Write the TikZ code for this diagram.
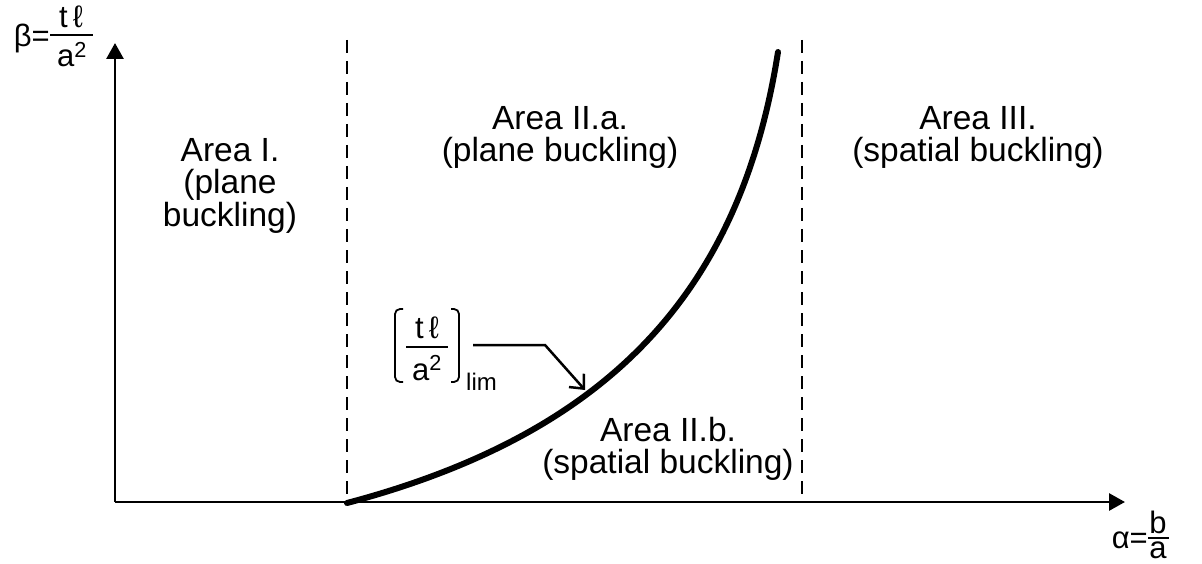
\documentclass[tikz,border=0pt]{standalone}
\usepackage{fontspec}
\setmainfont{Liberation Sans}
\usetikzlibrary{arrows.meta}
\begin{document}
\begin{tikzpicture}[x=1pt,y=-1pt,
  lbl/.style={font=\fontsize{33.5}{32}\selectfont, inner sep=0pt, anchor=base},
  eqtxt/.style={font=\fontsize{31}{31}\selectfont, inner sep=0pt, anchor=base},
  limtxt/.style={font=\fontsize{24}{24}\selectfont, inner sep=0pt, anchor=base west},
  axisline/.style={line width=2.8pt, -{Triangle[length=16pt,width=17pt]}},
  divider/.style={line width=2.8pt, dash pattern=on 13pt off 8pt},
  curveline/.style={line width=6pt, line cap=round},
  leader/.style={line width=2.5pt, -{Straight Barb[length=11pt,width=20pt]}},
  barline/.style={line width=2.2pt},
  bracket/.style={line width=1.8pt, rounded corners=5pt}]
\useasboundingbox (0,0) rectangle (1202,564);
% axes
\coordinate (O) at (115,502);
\coordinate (ytip) at (115,43);
\coordinate (xtip) at (1125,502);
\draw[axisline] (O) -- (ytip);
\draw[axisline] (O) -- (xtip);
% dividers
\coordinate (d1t) at (347,40);
\coordinate (d1b) at (347,502);
\coordinate (d2t) at (802,40);
\coordinate (d2b) at (802,502);
\draw[divider] (d1t) -- (d1b);
\draw[divider] (d2t) -- (d2b);
% curve
\coordinate (c0) at (347,503);
\coordinate (c3) at (778,52);
\draw[curveline] (c0) .. controls (607,434) and (740,294) .. (c3);
% area labels
\node[lbl] (a1l1) at (230,162) {Area I.};
\node[lbl] (a1l2) at (230,194) {(plane};
\node[lbl] (a1l3) at (230,226) {buckling)};
\node[lbl] (a2l1) at (560,130) {Area II.a.};
\node[lbl] (a2l2) at (560,162) {(plane buckling)};
\node[lbl] (a3l1) at (978,130) {Area III.};
\node[lbl] (a3l2) at (978,162) {(spatial buckling)};
\node[lbl] (b2l1) at (668,441) {Area II.b.};
\node[lbl] (b2l2) at (668,473) {(spatial buckling)};
% beta label
\node[eqtxt, anchor=base east] (beq) at (50,47) {β=};
\coordinate (bb1) at (50,35);
\coordinate (bb2) at (93,35);
\draw[barline] (bb1) -- (bb2);
\node[eqtxt] (bnum) at (71,28) {t\,ℓ};
\node[eqtxt] (bden) at (72,67) {a\textsuperscript{2}};
% alpha label
\node[eqtxt, anchor=base east] (aeq) at (1148,548) {α=};
\coordinate (ab1) at (1148,538);
\coordinate (ab2) at (1169,538);
\draw[barline] (ab1) -- (ab2);
\node[eqtxt] (anum) at (1158,533) {b};
\node[eqtxt] (aden) at (1158,558) {a};
% lim label
\coordinate (lb1) at (406,347);
\coordinate (lb2) at (448,347);
\draw[barline] (lb1) -- (lb2);
\node[eqtxt] (lnum) at (427,338) {t\,ℓ};
\node[eqtxt] (lden) at (427,380) {a\textsuperscript{2}};
\draw[bracket] (403,309) -- (395,309) -- (395,382) -- (403,382);
\draw[bracket] (451,309) -- (459,309) -- (459,382) -- (451,382);
\node[limtxt] (lim) at (466,390) {lim};
\coordinate (ld1) at (473,345);
\coordinate (ld2) at (545,345);
\coordinate (ldtip) at (585,390);
\draw[leader] (ld1) -- (ld2) -- (ldtip);
\end{tikzpicture}
\end{document}
